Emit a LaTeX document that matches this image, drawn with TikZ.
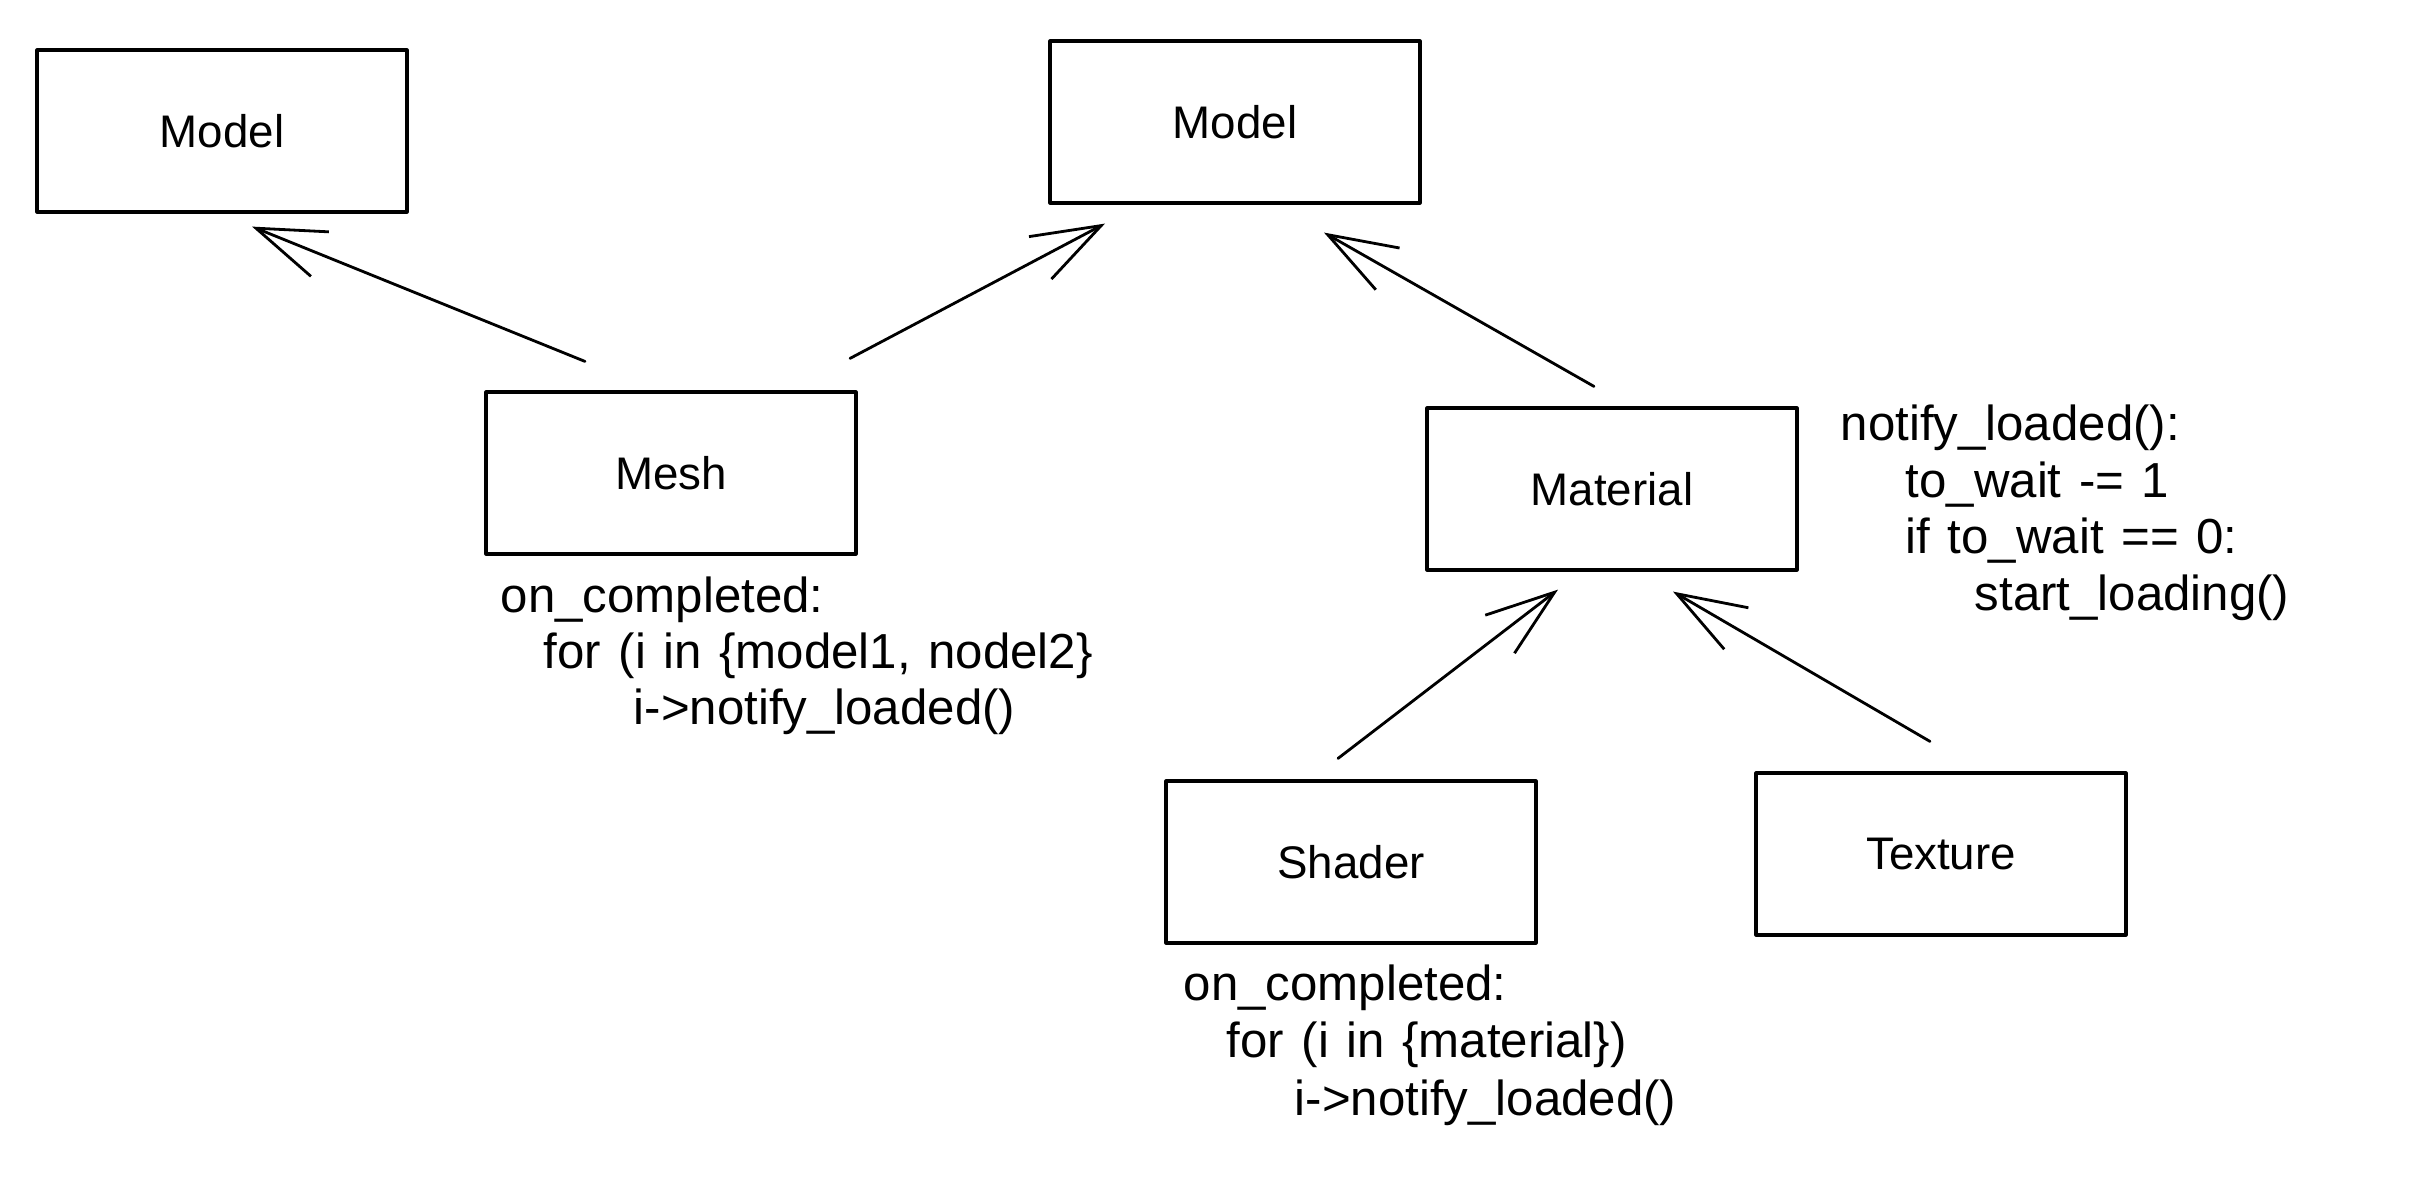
\documentclass[tikz,border=0pt]{standalone}
\usepackage{fontspec}
\setmainfont{Liberation Sans}
\usetikzlibrary{arrows.meta}
\newcommand\notefont{\fontsize{14}{16}\selectfont\setlength{\spaceskip}{5pt}}

\begin{document}
\begin{tikzpicture}[line join=round, line cap=round,
		box/.style={draw, line width=0.9pt, minimum width=3.7cm, minimum height=1.62cm, inner sep=0pt, font=\fontsize{13}{15}\selectfont},
		note/.style={anchor=base west, inner sep=0pt, font=\notefont},
		link/.style={line width=0.8pt, -{Straight Barb[length=6.9mm, width=4.8mm, line width=0.8pt]}}]
	\useasboundingbox (0,0) rectangle (24.13,-11.80);
	
	% ====== CAC KHOI ======
	\node[box] (model1) at (2.22,-1.31) {Model};
	\node[box] (model2) at (12.35,-1.22) {Model};
	\node[box] (mesh) at (6.71,-4.73) {Mesh};
	\node[box] (material) at (16.12,-4.89) {Material};
	\node[box] (shader) at (13.51,-8.62) {Shader};
	\node[box] (texture) at (19.41,-8.54) {Texture};
	
	% ====== MUI TEN ======
	\draw[link] ([shift={(-0.86,0.29)}]mesh.north) -- ([shift={(0.30,-0.13)}]model1.south);
	\draw[link] ([shift={(1.79,0.32)}]mesh.north) -- ([shift={(-1.30,-0.19)}]model2.south);
	\draw[link] ([shift={(-0.18,0.20)}]material.north) -- ([shift={(0.89,-0.28)}]model2.south);
	\draw[link] ([shift={(-0.13,0.21)}]shader.north) -- ([shift={(-0.54,-0.18)}]material.south);
	\draw[link] ([shift={(-0.11,0.30)}]texture.north) -- ([shift={(0.61,-0.20)}]material.south);
	
	% ====== GHI CHU ======
	% duoi Mesh
	\node[note] (meshnote1) at (5.00,-6.12) {on\_completed:};
	\node[note] (meshnote2) at (5.43,-6.68) {for (i in \{model1, nodel2\}};
	\node[note] (meshnote3) at (6.33,-7.24) {i->notify\_loaded()};
	% duoi Shader
	\node[note] (shadernote1) at (11.83,-10.00) {on\_completed:};
	\node[note] (shadernote2) at (12.26,-10.57) {for (i in \{material\})};
	\node[note] (shadernote3) at (12.94,-11.15) {i->notify\_loaded()};
	% ben phai Material
	\node[note] (matnote1) at (18.40,-4.40) {notify\_loaded():};
	\node[note] (matnote2) at (19.05,-4.97) {to\_wait -= 1};
	\node[note] (matnote3) at (19.05,-5.53) {if to\_wait == 0:};
	\node[note] (matnote4) at (19.74,-6.10) {start\_loading()};
\end{tikzpicture}
\end{document}
